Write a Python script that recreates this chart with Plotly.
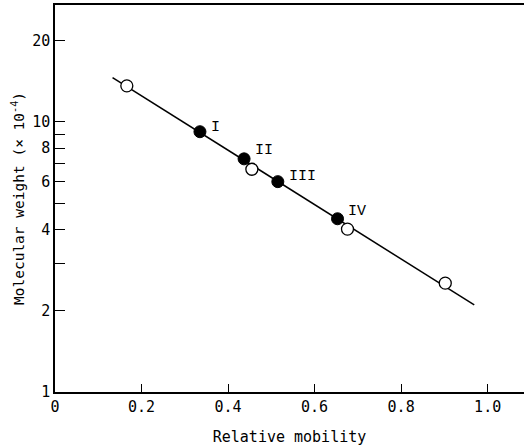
import math
import plotly.graph_objects as go

# Data
open_x = [0.166, 0.455, 0.676, 0.902]
open_y = [13.6, 6.68, 4.01, 2.53]

filled_x = [0.335, 0.437, 0.515, 0.653]
filled_y = [9.2, 7.3, 6.01, 4.38]
filled_labels = ["I", "II", "III", "IV"]

fit_x = [0.133, 0.969]
fit_y = [14.6, 2.10]

x_tickvals = [0, 0.2, 0.4, 0.6, 0.8, 1.0]
x_ticktext = ["0", "0.2", "0.4", "0.6", "0.8", "1.0"]
y_tickvals = [1, 2, 3, 4, 5, 6, 7, 8, 9, 10, 20]
y_ticktext = ["1", "2", "", "4", "", "6", "", "8", "", "10", "20"]

font_family = "DejaVu Sans Mono"

fig = go.Figure()
fig.add_trace(go.Scatter(x=fit_x, y=fit_y, mode="lines",
                         line=dict(color="black", width=1.5),
                         showlegend=False, hoverinfo="skip"))
fig.add_trace(go.Scatter(x=open_x, y=open_y, mode="markers",
                         marker=dict(symbol="circle", size=12, color="white",
                                     line=dict(color="black", width=1.3)),
                         showlegend=False))
fig.add_trace(go.Scatter(x=filled_x, y=filled_y, mode="markers",
                         marker=dict(symbol="circle", size=12, color="black",
                                     line=dict(color="black", width=1)),
                         showlegend=False))

label_offsets = [(9, 4), (9, 8), (9, 5), (8, 7)]
for xv, yv, lab, (dx, dy) in zip(filled_x, filled_y, filled_labels, label_offsets):
    fig.add_annotation(x=xv, y=math.log10(yv), text=lab, showarrow=False,
                       xanchor="left", yanchor="middle",
                       xshift=dx, yshift=dy,
                       font=dict(family="Liberation Mono", size=15, color="black"))

fig.update_layout(
    width=524, height=446,
    margin=dict(l=55, r=0, t=5, b=54, autoexpand=False),
    plot_bgcolor="white", paper_bgcolor="white",
    font=dict(family=font_family, size=15, color="black"),
    xaxis=dict(range=[0, 1.084], tickvals=x_tickvals, ticktext=x_ticktext,
               ticks="inside", ticklen=8, tickwidth=1.3, tickcolor="black",
               showline=True, linecolor="black", linewidth=1.5, mirror=True,
               showgrid=False, zeroline=False,
               tickfont=dict(size=15),
               title=dict(text="Relative mobility", font=dict(size=15), standoff=17)),
    yaxis=dict(type="log", range=[0, 1.433], tickvals=y_tickvals, ticktext=y_ticktext,
               ticks="inside", ticklen=10, tickwidth=1.3, tickcolor="black",
               showline=True, linecolor="black", linewidth=1.5, mirror=False,
               showgrid=False, zeroline=False,
               tickfont=dict(size=15),
               title=dict(text="Molecular weight (× 10<sup>-4</sup>)",
                          font=dict(size=14.5), standoff=4)),
)

fig.write_html("out.html", config={"displayModeBar": False},
               post_script="document.body.style.margin='0';document.body.style.overflow='hidden';")
